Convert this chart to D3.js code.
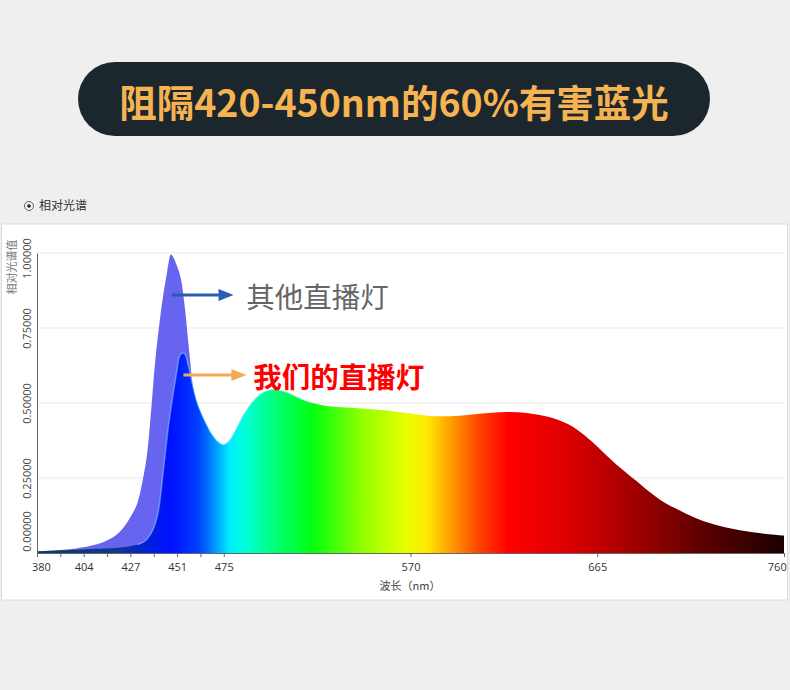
<!DOCTYPE html>
<html>
<head>
<meta charset="utf-8">
<script src="https://cdn.jsdelivr.net/npm/d3@7/dist/d3.min.js"></script>
<style>
  html, body { margin: 0; padding: 0; background: #efefef; }
  svg { display: block; }
  text { font-family: "Noto Sans CJK SC", "Noto Sans", sans-serif; }
</style>
</head>
<body>
<script>
// wavelength samples (nm)
var wavelengths = [380, 390, 400, 410, 415, 420, 424, 428, 431, 434, 436, 438, 440, 442, 444, 446, 447, 448, 449, 451,
  453, 455, 457, 459, 461, 463, 466, 469, 472, 475, 478, 481, 485, 490, 495, 500, 505, 510, 515, 520,
  530, 540, 550, 560, 570, 580, 590, 600, 610, 620, 630, 640, 650, 655, 660, 665, 670, 675, 680, 685,
  690, 695, 700, 705, 710, 715, 720, 725, 730, 735, 740, 745, 750, 755, 760];

// 我们的直播灯
var ourLamp = [0.005, 0.008, 0.011, 0.014, 0.015, 0.017, 0.019, 0.023, 0.028, 0.036, 0.047, 0.065, 0.095, 0.15, 0.26, 0.375, 0.43, 0.475, 0.52, 0.60,
  0.662, 0.665, 0.625, 0.565, 0.512, 0.475, 0.432, 0.396, 0.372, 0.362, 0.376, 0.41, 0.46, 0.507, 0.535, 0.545, 0.54, 0.527, 0.512, 0.50,
  0.488, 0.484, 0.479, 0.473, 0.465, 0.457, 0.456, 0.461, 0.467, 0.47, 0.466, 0.454, 0.43, 0.41, 0.384, 0.355, 0.323, 0.293, 0.266, 0.24,
  0.212, 0.187, 0.165, 0.148, 0.132, 0.117, 0.104, 0.094, 0.086, 0.079, 0.073, 0.068, 0.064, 0.061, 0.058];

// 其他直播灯
var otherLamp = [0.005, 0.009, 0.015, 0.028, 0.04, 0.058, 0.085, 0.125, 0.165, 0.25, 0.33, 0.47, 0.63, 0.75, 0.85, 0.93, 0.97, 0.995, 0.99, 0.96,
  0.92, 0.83, 0.70, 0.57, 0.45, 0.36, 0.30, 0.27, 0.26, 0.27, 0.29, 0.32, 0.37, 0.42, 0.45, 0.46, 0.46, 0.455, 0.445, 0.44,
  0.43, 0.425, 0.42, 0.415, 0.41, 0.40, 0.40, 0.405, 0.41, 0.41, 0.405, 0.395, 0.375, 0.36, 0.335, 0.31, 0.285, 0.26, 0.235, 0.21,
  0.19, 0.165, 0.147, 0.132, 0.118, 0.105, 0.094, 0.085, 0.078, 0.071, 0.066, 0.062, 0.058, 0.055, 0.052];

// axis ticks
var xTicks = [380, 391.875, 403.75, 415.625, 427.5, 439.375, 451.25, 463.125, 475, 570, 665, 760];
var xLabels = ["380", "", "404", "", "427", "", "451", "", "475", "570", "665", "760"];
var yTicks = [0, 0.25, 0.5, 0.75, 1.0];

// spectrum colours along the wavelength axis
var spectrumNm = [380, 420, 436, 448, 462, 470, 478, 486, 500, 520, 545, 568, 578, 590, 605, 620, 650, 685, 720, 760];
var spectrumColor = ["#0d3a55", "#0d3a8c", "#0020d8", "#0010ff", "#0040ff", "#0090ff", "#00eeff", "#00ffd8", "#00ff80", "#00ff10",
  "#90ff00", "#e8ff00", "#ffea00", "#ffa000", "#ff4400", "#ff0000", "#dd0000", "#a00000", "#5a0000", "#1c0000"];

var W = 790, H = 690;

var svg = d3.select("body").append("svg")
    .attr("width", W)
    .attr("height", H);

// page background
svg.append("rect").attr("width", W).attr("height", H).attr("fill", "#efefef");

// title pill
svg.append("rect")
    .attr("x", 78).attr("y", 62)
    .attr("width", 632).attr("height", 74)
    .attr("rx", 37).attr("ry", 37)
    .attr("fill", "#1b262d");

svg.append("text")
    .attr("x", 394).attr("y", 100)
    .attr("text-anchor", "middle")
    .attr("dominant-baseline", "central")
    .style("font-size", "37.5px")
    .style("font-weight", "bold")
    .attr("fill", "#f6b352")
    .text("阻隔420-450nm的60%有害蓝光");

// header row
svg.append("circle").attr("cx", 29).attr("cy", 206).attr("r", 4.5)
    .attr("fill", "none").attr("stroke", "#666").attr("stroke-width", 1);
svg.append("circle").attr("cx", 29).attr("cy", 206).attr("r", 1.8).attr("fill", "#222");
svg.append("text")
    .attr("x", 39).attr("y", 210)
    .style("font-size", "12px")
    .attr("fill", "#333")
    .text("相对光谱");

// white chart panel
svg.append("rect")
    .attr("x", 1.5).attr("y", 224)
    .attr("width", 786).attr("height", 376)
    .attr("fill", "#fff")
    .attr("stroke", "#dcdcdc")
    .attr("stroke-width", 1);

// scales
var x = d3.scaleLinear().domain([380, 760]).range([37, 784]);
var y = d3.scaleLinear().domain([0, 1]).range([553, 253]);

var ourData = wavelengths.map(function(w, i) { return [w, ourLamp[i]]; });
var otherData = wavelengths.map(function(w, i) { return [w, otherLamp[i]]; });

// gradient
var defs = svg.append("defs");
var grad = defs.append("linearGradient")
    .attr("id", "spectrum")
    .attr("gradientUnits", "userSpaceOnUse")
    .attr("x1", x(380)).attr("x2", x(760))
    .attr("y1", 0).attr("y2", 0);

spectrumNm.forEach(function(nm, i) {
  grad.append("stop")
      .attr("offset", ((nm - 380) / 380 * 100) + "%")
      .attr("stop-color", spectrumColor[i]);
});

// grid lines
svg.append("g").selectAll("line")
    .data(yTicks.filter(function(d) { return d > 0; }))
    .enter().append("line")
    .attr("x1", x(380)).attr("x2", x(760))
    .attr("y1", function(d) { return y(d); })
    .attr("y2", function(d) { return y(d); })
    .attr("stroke", "#e9e9e9")
    .attr("stroke-width", 1);

var curve = d3.curveCatmullRom.alpha(0.5);

var area = d3.area()
    .x(function(d) { return x(d[0]); })
    .y0(y(0))
    .y1(function(d) { return y(d[1]); })
    .curve(curve);

var line = d3.line()
    .x(function(d) { return x(d[0]); })
    .y(function(d) { return y(d[1]); })
    .curve(curve);

// other lamp (behind)
svg.append("path")
    .datum(otherData)
    .attr("d", area)
    .attr("fill", "#5a58ee")
    .attr("fill-opacity", 0.92);

// our lamp
svg.append("path")
    .datum(ourData)
    .attr("d", area)
    .attr("fill", "url(#spectrum)");

svg.append("path")
    .datum(ourData.filter(function(d) { return d[0] >= 430 && d[0] <= 520; }))
    .attr("d", line)
    .attr("fill", "none")
    .attr("stroke", "#9be6ff")
    .attr("stroke-opacity", 0.45)
    .attr("stroke-width", 1.5);

// axes
var xAxis = d3.axisBottom(x)
    .tickValues(xTicks)
    .tickSize(4)
    .tickFormat(function(d, i) { return xLabels[i]; });

var gx = svg.append("g")
    .attr("transform", "translate(0," + y(0) + ")")
    .call(xAxis);
gx.select(".domain").attr("stroke", "#666");
gx.selectAll(".tick line").attr("stroke", "#666");
gx.selectAll(".tick text")
    .attr("y", 10)
    .style("font-size", "11px")
    .style("font-family", "'Open Sans', 'Noto Sans', sans-serif")
    .attr("fill", "#333");
gx.selectAll(".tick text").filter(function(d) { return d === 760; })
    .attr("text-anchor", "end").attr("dx", "0.2em");
gx.selectAll(".tick text").filter(function(d) { return d === 380; })
    .attr("dx", "0.35em");

var yAxis = d3.axisLeft(y)
    .tickValues(yTicks)
    .tickSize(0)
    .tickFormat(d3.format(".5f"));

// edge labels are pulled inward like in the original
var yShift = { 0: -22, 1: 5 };

var gy = svg.append("g")
    .attr("transform", "translate(" + x(380) + ",0)")
    .call(yAxis);
gy.select(".domain").attr("stroke", "#666");
gy.selectAll(".tick text")
    .attr("x", 0).attr("dx", 0).attr("dy", 0)
    .attr("text-anchor", "middle")
    .attr("transform", function(d) { return "translate(-6," + (yShift[d] || 0) + ") rotate(-90)"; })
    .style("font-size", "11px")
    .style("font-family", "'Open Sans', 'Noto Sans', sans-serif")
    .attr("fill", "#444");

// axis titles
svg.append("text")
    .attr("x", 410).attr("y", 590)
    .attr("text-anchor", "middle")
    .style("font-size", "11px")
    .attr("fill", "#444")
    .text("波长（nm）");

svg.append("text")
    .attr("transform", "translate(16,267) rotate(-90)")
    .attr("text-anchor", "middle")
    .style("font-size", "11px")
    .attr("fill", "#777")
    .text("相对光谱值");

// annotations (in data units)
var notes = [
  { from: 448.5, to: 480, v: 0.86, color: "#2b5db4", label: "其他直播灯", tx: 486.5, tColor: "#666", weight: "normal" },
  { from: 454.5, to: 486.5, v: 0.593, color: "#f4a955", label: "我们的直播灯", tx: 490, tColor: "#ff0000", weight: "bold" }
];

notes.forEach(function(n) {
  var x0 = x(n.from), x1 = x(n.to), yy = y(n.v);
  svg.append("line")
      .attr("x1", x0).attr("x2", x1 - 12)
      .attr("y1", yy).attr("y2", yy)
      .attr("stroke", n.color)
      .attr("stroke-width", 3);
  svg.append("path")
      .attr("d", "M" + (x1 - 15) + "," + (yy - 6) + "L" + x1 + "," + yy + "L" + (x1 - 15) + "," + (yy + 6) + "Z")
      .attr("fill", n.color);
  svg.append("text")
      .attr("x", x(n.tx)).attr("y", yy)
      .attr("dominant-baseline", "central")
      .style("font-size", "28.5px")
      .style("font-weight", n.weight)
      .attr("fill", n.tColor)
      .text(n.label);
});
</script>
</body>
</html>
